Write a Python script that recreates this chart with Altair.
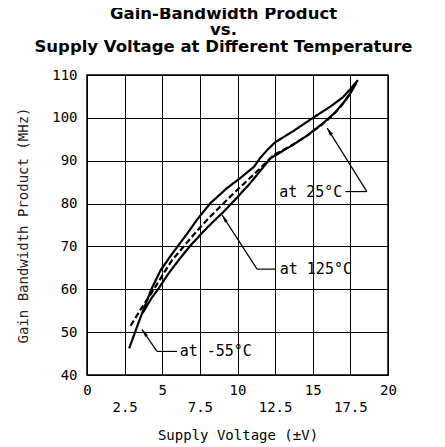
import altair as alt
import pandas as pd

# ---- curve data ----
series_names = ["-55C", "25C", "125C"]

x_m55 = [2.8, 3.4, 4.0, 4.3, 4.9, 5.5, 6.0, 6.7, 7.3, 8.2, 9.3, 10.2, 11.1, 11.5, 12.0, 12.5, 13.7, 15.1, 16.2, 17.0, 17.5, 18.0]
y_m55 = [46.2, 52.0, 57.5, 60.2, 64.5, 67.5, 69.9, 73.2, 76.2, 80.1, 83.6, 86.0, 88.6, 90.6, 92.6, 94.3, 96.9, 100.2, 102.7, 104.8, 106.7, 108.8]

x_25 = [2.9, 3.6, 4.3, 5.0, 5.65, 6.5, 7.3, 8.0, 8.86, 9.8, 10.6, 11.5, 12.4, 13.7, 14.6, 15.5, 16.2, 16.9, 17.4, 17.7]
y_25 = [51.5, 55.5, 59.2, 63.2, 66.8, 70.3, 73.6, 76.3, 79.3, 82.6, 85.2, 88.2, 91.3, 93.8, 95.8, 98.1, 100.2, 102.8, 105.2, 107.5]

x_125 = [3.7, 4.3, 4.76, 5.4, 6.09, 6.8, 7.5, 8.3, 9.08, 10.0, 10.8, 11.3, 12.19, 13.5, 14.6, 15.7, 16.5, 17.1, 17.6, 17.9]
y_125 = [54.5, 58.0, 60.2, 63.6, 66.8, 69.9, 72.6, 75.5, 78.1, 81.5, 84.6, 86.7, 90.6, 93.3, 95.8, 98.8, 101.3, 103.8, 106.3, 108.2]

x_ticks = [0, 2.5, 5, 7.5, 10, 12.5, 15, 17.5, 20]
y_ticks = [40, 50, 60, 70, 80, 90, 100, 110]

# annotations
ann_text = ["at 25°C", "at 125°C", "at -55°C"]
ann_tx = [12.7, 12.74, 6.09]
ann_ty = [82.8, 64.8, 45.6]
# leader segments (x, y, x2, y2)
seg_x = [17.17, 18.6, 11.3, 11.3, 4.65, 4.65]
seg_y = [82.8, 82.8, 64.7, 64.7, 45.5, 45.5]
seg_x2 = [18.6, 15.96, 12.5, 8.98, 5.98, 3.66]
seg_y2 = [82.8, 97.6, 64.7, 77.3, 45.5, 50.6]
# arrow heads
head_x = [15.96, 8.98, 3.66]
head_y = [97.6, 77.3, 50.6]
head_ang = [327, 327, 325]

rows = []
for name, xs, ys in [("-55C", x_m55, y_m55), ("25C", x_25, y_25), ("125C", x_125, y_125)]:
    for i, (a, b) in enumerate(zip(xs, ys)):
        rows.append({"series": name, "v": a, "gbw": b, "order": i})
df = pd.DataFrame(rows)

df_text = pd.DataFrame({"t": ann_text, "x": ann_tx, "y": ann_ty})
df_seg = pd.DataFrame({"x": seg_x, "y": seg_y, "x2": seg_x2, "y2": seg_y2})
df_head = pd.DataFrame({"x": head_x, "y": head_y, "ang": head_ang})

MONO = "DejaVu Sans Mono"
xscale = alt.Scale(domain=[0, 20], nice=False, zero=False)
yscale = alt.Scale(domain=[40, 110], nice=False, zero=False)

x_axis = alt.Axis(
    values=x_ticks, tickCount=20, grid=True, gridColor="black", gridWidth=1, gridOpacity=1,
    ticks=False, domain=False, labelFont=MONO, labelFontSize=14, labelColor="black",
    labelExpr="datum.value % 5 == 0 ? format(datum.value, 'd') : ['', format(datum.value, '.1f')]",
    labelLineHeight=17, labelPadding=8, labelOverlap=False, labelFlush=False,
    title="Supply Voltage (±V)", titleFont=MONO, titleFontSize=14,
    titleFontWeight="normal", titleColor="black", titleY=60, titleBaseline="middle",
)
y_axis = alt.Axis(
    values=y_ticks, tickCount=20, grid=True, gridColor="black", gridWidth=1, gridOpacity=1,
    ticks=False, domain=False, labelFont=MONO, labelFontSize=14, labelColor="black",
    labelPadding=10, labelOverlap=False, labelFlush=False, format="d",
    title="Gain Bandwidth Product (MHz)", titleFont=MONO, titleFontSize=14,
    titleFontWeight="normal", titleColor="#222", titleX=-64, titleY=150,
    titleAngle=270, titleAlign="center", titleBaseline="middle",
)

X = lambda f: alt.X(f, scale=xscale, axis=x_axis)
Y = lambda f: alt.Y(f, scale=yscale, axis=y_axis)

lines = alt.Chart(df).mark_line(color="black", strokeWidth=2.2).encode(
    x=X("v:Q"),
    y=Y("gbw:Q"),
    strokeDash=alt.StrokeDash("series:N", scale=alt.Scale(domain=series_names, range=[[1, 0], [6, 3], [1, 0]]), legend=None),
    detail="series:N",
    order="order:Q",
)

segs = alt.Chart(df_seg).mark_rule(color="black", strokeWidth=1.2).encode(
    x=X("x:Q"), y=Y("y:Q"),
    x2="x2:Q", y2="y2:Q",
)

heads = alt.Chart(df_head).mark_point(
    shape="M0,0L0.32,1.5L-0.32,1.5Z", filled=True, color="black", size=110, opacity=1
).encode(
    x=X("x:Q"), y=Y("y:Q"),
    angle=alt.Angle("ang:Q", scale=None),
)

texts = alt.Chart(df_text).mark_text(
    align="left", baseline="middle", font=MONO, fontSize=15, color="black", dx=1
).encode(
    x=X("x:Q"), y=Y("y:Q"), text="t:N",
)

chart = alt.layer(lines, segs, heads, texts).properties(
    width=301, height=300,
    title=alt.Title(
        ["Gain-Bandwidth Product", "vs.", "Supply Voltage at Different Temperature"],
        font="DejaVu Sans", fontSize=16.5, fontWeight="bold", lineHeight=16.5,
        color="black", anchor="middle", dx=-14, offset=13,
    ),
    autosize=alt.AutoSizeParams(type="none"),
    padding={"left": 79, "top": 67, "right": 49, "bottom": 72},
).configure_view(stroke="black", strokeWidth=1.5)

chart.save("out.html", embed_options={"renderer": "svg", "actions": False})
